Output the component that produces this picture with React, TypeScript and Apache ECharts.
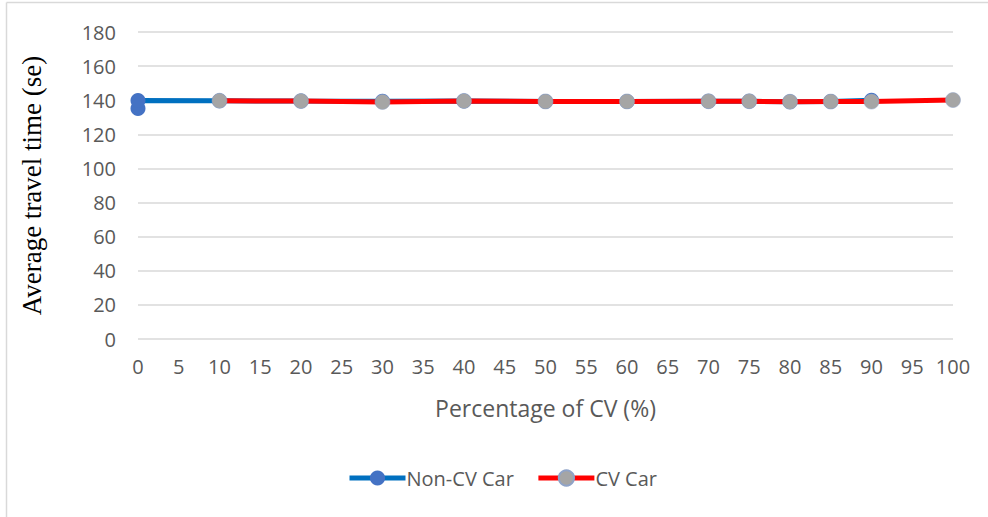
import React, { useEffect, useRef } from "react";
import * as echarts from "echarts";

const xTicks = [0, 5, 10, 15, 20, 25, 30, 35, 40, 45, 50, 55, 60, 65, 70, 75, 80, 85, 90, 95, 100];
const nonCvX = [0, 0, 10, 20, 30, 40, 50, 60, 70, 75, 80, 85, 90];
const nonCvY = [135.1, 139.8, 139.7, 139.5, 139.4, 139.5, 139.3, 139.3, 139.4, 139.4, 139.1, 139.2, 140.0];
const cvX = [10, 20, 30, 40, 50, 60, 70, 75, 80, 85, 90, 100];
const cvY = [139.7, 139.5, 139.0, 139.6, 139.3, 139.3, 139.4, 139.4, 139.1, 139.2, 139.2, 140.1];

const labelFont = "'Open Sans', 'Noto Sans', sans-serif";

export default function App() {
  const ref = useRef<HTMLDivElement>(null);
  useEffect(() => {
    document.body.style.margin = "0";
    const chart = echarts.init(ref.current!, undefined, { renderer: "svg" });
    chart.setOption({
      animation: false,
      backgroundColor: "#ffffff",
      grid: { left: 138, right: 35, top: 32, bottom: 178, containLabel: false },
      graphic: [
        { type: "line", shape: { x1: 6.5, y1: 2.5, x2: 988, y2: 2.5 }, style: { stroke: "#d9d9d9", lineWidth: 1.5 } },
        { type: "line", shape: { x1: 6.5, y1: 2.5, x2: 6.5, y2: 517 }, style: { stroke: "#d9d9d9", lineWidth: 1.5 } },
      ],
      xAxis: {
        type: "value",
        min: 0,
        max: 100,
        interval: 5,
        name: "Percentage of CV (%)",
        nameLocation: "middle",
        nameGap: 57,
        nameTextStyle: { color: "#595959", fontSize: 23, fontFamily: labelFont },
        axisLine: { show: false },
        axisTick: { show: false },
        splitLine: { show: false },
        axisLabel: {
          color: "#595959",
          fontSize: 20,
          fontFamily: labelFont,
          margin: 17,
          formatter: (v: number) => (xTicks.includes(v) ? String(v) : ""),
        },
      },
      yAxis: {
        type: "value",
        min: 0,
        max: 180,
        interval: 20,
        name: "Average travel time (se)",
        nameLocation: "middle",
        nameGap: 93,
        nameTextStyle: { color: "#000000", fontSize: 27, fontFamily: "'Liberation Serif', 'Times New Roman', serif" },
        axisLine: { show: false },
        axisTick: { show: false },
        splitLine: { lineStyle: { color: "#d9d9d9", width: 1.5 } },
        axisLabel: { color: "#595959", fontSize: 20, fontFamily: labelFont, margin: 22 },
      },
      legend: {
        bottom: 29,
        left: 347,
        padding: 0,
        itemWidth: 56,
        itemHeight: 19,
        itemGap: 22,
        lineStyle: { width: 5 },
        textStyle: { color: "#595959", fontSize: 20, fontFamily: labelFont, padding: [0, 0, 0, -4] },
        data: ["Non-CV Car", "CV Car"],
      },
      series: [
        {
          name: "Non-CV Car",
          type: "line",
          data: nonCvX.map((x, i) => [x, nonCvY[i]]),
          lineStyle: { color: "#0070C0", width: 5 },
          itemStyle: { color: "#4472C4" },
          symbol: "circle",
          symbolSize: 15,
          z: 2,
        },
        {
          name: "CV Car",
          type: "line",
          data: cvX.map((x, i) => [x, cvY[i]]),
          lineStyle: { color: "#FF0000", width: 5 },
          itemStyle: { color: "#A5A5A5", borderColor: "#8fa3c8", borderWidth: 0.5 },
          symbol: "circle",
          symbolSize: 15,
          z: 3,
        },
      ],
    });
    return () => chart.dispose();
  }, []);
  return <div ref={ref} style={{ width: 988, height: 517 }} />;
}
